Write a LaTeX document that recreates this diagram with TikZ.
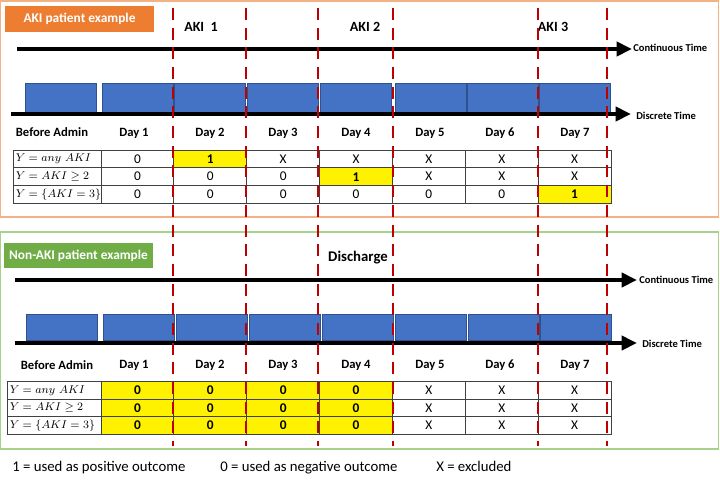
\documentclass[tikz,border=0pt]{standalone}
\usepackage{fontspec}
\setmainfont{Carlito}
\usetikzlibrary{arrows.meta,positioning}
\definecolor{akiorange}{HTML}{ED7D31}
\definecolor{akiframe}{HTML}{F4B183}
\definecolor{nonakigreen}{HTML}{70AD47}
\definecolor{nonakiframe}{HTML}{A9D18E}
\definecolor{dayblue}{HTML}{4472C4}
\definecolor{dayedge}{HTML}{2F528F}
\definecolor{cutred}{HTML}{C00000}

\begin{document}
\begin{tikzpicture}[
        x=0.025cm, y=-0.025cm,
        panel/.style={
            rectangle,
            thick,
            minimum width=17.925cm,
            inner sep=0
        },
        tag/.style={
            rectangle,
            text=white,
            minimum width=3.725cm,
            minimum height=0.64cm,
            inner sep=0,
            font=\bfseries\fontsize{9.5}{11}\selectfont
        },
        event/.style={font=\bfseries},
        timename/.style={anchor=west, inner sep=0, font=\bfseries\fontsize{7.5}{9}\selectfont},
        timeline/.style={line width=3.5pt, -{Triangle[length=11pt, width=10pt]}},
        dayblock/.style={
            rectangle,
            fill=dayblue,
            draw=dayedge,
            minimum width=1.775cm,
            inner sep=0
        },
        dayname/.style={font=\bfseries\small},
        cell/.style={
            rectangle,
            draw=black!75,
            line width=0.6pt,
            minimum width=1.8215cm,
            minimum height=0.4425cm,
            inner sep=0,
            font=\fontsize{9.5}{11}\selectfont
        },
        hit/.style={cell, fill=yellow, font=\bfseries\fontsize{9.5}{11}\selectfont},
        outcome/.style={cell, align=left, inner xsep=2pt, font=\fontsize{8.3}{10}\selectfont},
        cutoff/.style={cutred, line width=2pt, dash pattern=on 8.5pt off 5.5pt},
        legend/.style={anchor=base west, inner sep=0, font=\fontsize{10.5}{12}\selectfont}
    ]
    \useasboundingbox (0,0) rectangle (720,487);

    % Panels and their tags
    \node[panel, draw=akiframe, minimum height=5.4cm] (akipanel) at (359.5,109) {};
    \node[panel, draw=nonakiframe, minimum height=5.425cm] (nonakipanel) at (359.5,340.5) {};
    \node[tag, fill=akiorange] (akitag) at (79.5,19) {AKI patient example};
    \node[tag, fill=nonakigreen] (nonakitag) at (78.5,255.5) {Non-AKI patient example};

    % Events on the continuous time axis
    \node[event] (aki1) at (201,27) {AKI~~1};
    \node[event] (aki2) at (365,27) {AKI 2};
    \node[event] (aki3) at (553,27) {AKI 3};
    \node[event, font=\bfseries\fontsize{10.5}{12}\selectfont] (discharge) at (358,258) {Discharge};

    % AKI patient: days as blocks
    \foreach \l/\r [count=\i] in {25/96,102/173,175/245,248/318,320/392,395/466,468/538,540/610}
        \node[dayblock, minimum height=0.725cm] (akiday\i) at ({(\l+\r)/2},97.5) {};

    % Non-AKI patient: days as blocks
    \foreach \l/\r [count=\i] in {27/97,103/174,176/247,250/320,322/393,396/466,469/539,541/611}
        \node[dayblock, minimum height=0.65cm] (nonakiday\i) at ({(\l+\r)/2},327) {};

    % Time axes
    \coordinate (akicont0) at (17,49);
    \coordinate (akicont1) at (632,49);
    \coordinate (akidisc0) at (11,114);
    \coordinate (akidisc1) at (631,114);
    \coordinate (nonakicont0) at (15,280);
    \coordinate (nonakicont1) at (637,280);
    \coordinate (nonakidisc0) at (15,343);
    \coordinate (nonakidisc1) at (637,343);
    \draw[timeline] (akicont0) -- (akicont1);
    \draw[timeline] (akidisc0) -- (akidisc1);
    \draw[timeline] (nonakicont0) -- (nonakicont1);
    \draw[timeline] (nonakidisc0) -- (nonakidisc1);
    \node[timename] (akiconttext) at (633,48) {Continuous Time};
    \node[timename] (akidisctext) at (636,116) {Discrete Time};
    \node[timename] (nonakiconttext) at (639,280) {Continuous Time};
    \node[timename] (nonakidisctext) at (642,344) {Discrete Time};

    % Column headers
    \node[dayname] (akibefore) at (52,132) {Before Admin};
    \node[dayname] (nonakibefore) at (57,365) {Before Admin};
    \foreach \x [count=\i] in {134,210,283,356,430,500,575} {
        \node[dayname] (akihead\i) at (\x,133) {Day \i};
        \node[dayname] (nonakihead\i) at (\x,365) {Day \i};
    }

    % AKI patient: outcome table
    \node[outcome, text width=2.06cm] (akiy1) at (57,159) {\mbox{$Y = any\ AKI$}};
    \node[outcome, text width=2.06cm] (akiy2) at (57,176.7) {\mbox{$Y = AKI \geq 2$}};
    \node[outcome, text width=2.06cm] (akiy3) at (57,194.4) {\mbox{$Y = \{AKI = 3\}$}};
    \foreach \vals [count=\r] in {
        {0/cell,1/hit,X/cell,X/cell,X/cell,X/cell,X/cell},
        {0/cell,0/cell,0/cell,1/hit,X/cell,X/cell,X/cell},
        {0/cell,0/cell,0/cell,0/cell,0/cell,0/cell,1/hit}}
        \foreach \v/\s [count=\c] in \vals
            \node[\s] (aki\r-\c) at ({101+72.86*(\c-0.5)},{159+17.7*(\r-1)}) {\v};

    % Non-AKI patient: outcome table
    \node[outcome, text width=2.21cm] (nonakiy1) at (54,390.5) {\mbox{$Y = any\ AKI$}};
    \node[outcome, text width=2.21cm] (nonakiy2) at (54,408) {\mbox{$Y = AKI \geq 2$}};
    \node[outcome, text width=2.21cm] (nonakiy3) at (54,425.5) {\mbox{$Y = \{AKI = 3\}$}};
    \foreach \r in {1,2,3}
        \foreach \v/\s [count=\c] in {0/hit,0/hit,0/hit,0/hit,X/cell,X/cell,X/cell}
            \node[\s] (nonaki\r-\c) at ({101+72.86*(\c-0.5)},{390.5+17.5*(\r-1)}) {\v};

    % Day cut-offs
    \foreach \x [count=\i] in {173,246,318,393,538,607} {
        \coordinate (cut\i a) at (\x,8);
        \coordinate (cut\i b) at (\x,446);
        \draw[cutoff] (cut\i a) -- (cut\i b);
    }

    % Legend
    \node[legend] (legpos) at (12,471) {1 = used as positive outcome};
    \node[legend] (legneg) at (220,471) {0 = used as negative outcome};
    \node[legend] (legexcl) at (436,471) {X = excluded};

\end{tikzpicture}
\end{document}
